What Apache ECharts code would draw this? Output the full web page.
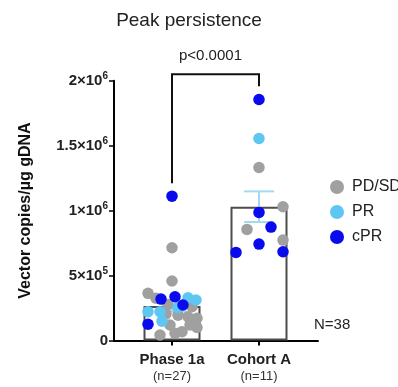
<!DOCTYPE html>
<html><head><meta charset="utf-8">
<script src="https://cdn.jsdelivr.net/npm/echarts@6/dist/echarts.min.js"></script>
<style>html,body{margin:0;padding:0;background:#fff}#c{width:398px;height:387px}</style>
</head><body><div id="c"></div>
<script>
// ---- data ----
const categories = ['Phase 1a', 'Cohort A'];
const categoryN = ['(n=27)', '(n=11)'];
const groups = ['PD/SD', 'PR', 'cPR'];
const yTicks = [0, 500000, 1000000, 1500000, 2000000];
const yTickLabels = ['0', '5×10^5', '1×10^6', '1.5×10^6', '2×10^6'];
const barMeans = [265000, 1030000];
const barSEM = [42000, 118000];
const pValueText = 'p<0.0001';
const totalText = 'N=38';
const bracketLevels = [1210000, 1958000, 2050000]; // left leg start, right leg start, top

const phase1a_PDSD = [714000, 458000, 363000, 325000, 278000, 260000, 195000, 183000, 171000, 119000, 119000, 100000, 42000, 55000, 68000, 205000];
const phase1a_PR   = [329000, 312000, 255000, 222000, 222000, 148000];
const phase1a_cPR  = [1111000, 319000, 337000, 273000, 125000];
const cohortA_PDSD = [1332000, 1030000, 855000, 773000];
const cohortA_PR   = [1555000];
const cohortA_cPR  = [1855000, 986000, 873000, 742000, 678000, 683000];

// horizontal jitter (pixel offsets, styling only)
const jit_p_PDSD = [0, 0, -24, -16, -4, 20, 6, 16, 25, -2, 18, 25, -12, 3, 10, -6];
const jit_p_PR   = [16, 24, 6, -24, -12, -10];
const jit_p_cPR  = [0, -11, 3, 11, -24];
const jit_a_PDSD = [0, 24, -12, 24];
const jit_a_PR   = [0];
const jit_a_cPR  = [0, 0, 12, 0, -23, 24];

const colors = {'PD/SD': '#a0a0a0', 'PR': '#5ec6f2', 'cPR': '#0a0aee'};

function pts(vals, jit, cat) {
  return vals.map((v, i) => ({ value: [cat, v], symbolOffset: [jit[i], 0] }));
}
const groupData = {
  'PD/SD': pts(phase1a_PDSD, jit_p_PDSD, 0).concat(pts(cohortA_PDSD, jit_a_PDSD, 1)),
  'PR': pts(phase1a_PR, jit_p_PR, 0).concat(pts(cohortA_PR, jit_a_PR, 1)),
  'cPR': pts(phase1a_cPR, jit_p_cPR, 0).concat(pts(cohortA_cPR, jit_a_cPR, 1))
};

const FONT = '"Liberation Sans", Arial, sans-serif';
const chart = echarts.init(document.getElementById('c'), null, {renderer: 'canvas'});

function yLabel(v) {
  const idx = yTicks.indexOf(v);
  const s = idx >= 0 ? yTickLabels[idx] : String(v);
  const parts = s.split('^');
  if (parts.length === 1) return '{b|' + parts[0] + '}';
  return '{b|' + parts[0] + '}{s|' + parts[1] + '}';
}

const option = {
  animation: false,
  backgroundColor: '#fff',
  title: {
    text: 'Peak persistence', left: 184, top: 6, textAlign: 'center',
    textStyle: {fontFamily: FONT, fontSize: 19, fontWeight: 'normal', color: '#222'}
  },
  legend: {
    data: groups, orient: 'vertical', left: 325, top: 174,
    icon: 'circle', itemWidth: 14, itemHeight: 14, itemGap: 9,
    textStyle: {fontFamily: FONT, fontSize: 16, color: '#222', padding: [0, 0, 0, 3]}
  },
  grid: [
    {left: 114, right: 80, top: 80.7, bottom: 46.5},
    {left: 128.5, width: 174, top: 80.7, bottom: 46.5}
  ],
  xAxis: [
    {gridIndex: 0, type: 'value', min: 0, max: 1, axisLine: {show: true, lineStyle: {color: '#000', width: 2}},
     axisTick: {show: false}, axisLabel: {show: false}, splitLine: {show: false}},
    {gridIndex: 1, type: 'category', data: categories, axisLine: {show: false},
     axisTick: {show: true, alignWithLabel: true, length: 5, lineStyle: {color: '#000', width: 2}},
     axisLabel: {
       margin: 11, interval: 0,
       formatter: (v, i) => '{a|' + v + '}\n{n|' + categoryN[i] + '}',
       rich: {
         a: {fontFamily: FONT, fontSize: 15, fontWeight: 'bold', color: '#222', lineHeight: 17},
         n: {fontFamily: FONT, fontSize: 13, color: '#333', lineHeight: 16}
       }
     }}
  ],
  yAxis: [
    {gridIndex: 0, type: 'value', min: 0, max: 2000000, interval: 500000,
     name: 'Vector copies/µg gDNA', nameLocation: 'middle', nameGap: 80,
     nameTextStyle: {fontFamily: FONT, fontSize: 16, fontWeight: 'bold', color: '#111'},
     axisLine: {show: true, lineStyle: {color: '#000', width: 2}},
     axisTick: {show: true, length: 5, lineStyle: {color: '#000', width: 1.5}},
     splitLine: {show: false},
     axisLabel: {
       margin: 6, formatter: yLabel,
       rich: {
         b: {fontFamily: FONT, fontSize: 15, fontWeight: 'bold', color: '#222'},
         s: {fontFamily: FONT, fontSize: 10, fontWeight: 'bold', color: '#222', padding: [0, 0, 9, 0]}
       }
     }},
    {gridIndex: 1, type: 'value', min: 0, max: 2000000, show: false}
  ],
  graphic: [
    {type: 'text', left: 212 - 33, top: 48, style: {text: pValueText, font: '15px ' + FONT, fill: '#222'}},
    {type: 'text', left: 314, top: 317, style: {text: totalText, font: '15px ' + FONT, fill: '#222'}}
  ],
  series: [
    {
      type: 'bar', xAxisIndex: 1, yAxisIndex: 1, data: barMeans, barWidth: 57, z: 1,
      itemStyle: {color: '#fff', borderColor: '#4d4d4d', borderWidth: 2}
    },
    {
      type: 'custom', xAxisIndex: 1, yAxisIndex: 1, z: 2,
      data: barMeans.map((m, i) => [i, m, barSEM[i]]),
      renderItem: function (params, api) {
        const x = api.value(0), m = api.value(1), s = api.value(2);
        const hi = api.coord([x, m + s]), lo = api.coord([x, m - s]);
        const w = 15;
        const st = {stroke: '#a3d9f0', lineWidth: 2};
        return {type: 'group', children: [
          {type: 'line', shape: {x1: hi[0], y1: hi[1], x2: lo[0], y2: lo[1]}, style: st},
          {type: 'line', shape: {x1: hi[0] - w, y1: hi[1], x2: hi[0] + w, y2: hi[1]}, style: st},
          {type: 'line', shape: {x1: lo[0] - w, y1: lo[1], x2: lo[0] + w, y2: lo[1]}, style: st}
        ]};
      }
    },
    {
      type: 'custom', xAxisIndex: 1, yAxisIndex: 1, z: 5, clip: false,
      data: [[0, 1, bracketLevels[0], bracketLevels[1], bracketLevels[2]]],
      renderItem: function (params, api) {
        const a = api.coord([api.value(0), api.value(2)]);
        const b = api.coord([api.value(1), api.value(3)]);
        const ta = api.coord([api.value(0), api.value(4)]);
        const tb = api.coord([api.value(1), api.value(4)]);
        return {type: 'polyline', shape: {points: [a, ta, tb, b]},
          style: {stroke: '#111', lineWidth: 2, fill: null}};
      }
    }
  ].concat(groups.map((g, gi) => ({
    name: g, type: 'scatter', xAxisIndex: 1, yAxisIndex: 1, z: 3 + gi * 0.1,
    symbol: 'circle', symbolSize: 11.5, data: groupData[g],
    itemStyle: {color: colors[g], opacity: 1}
  })))
};
option.color = groups.map(g => colors[g]);
chart.setOption(option);
</script>
</body></html>
